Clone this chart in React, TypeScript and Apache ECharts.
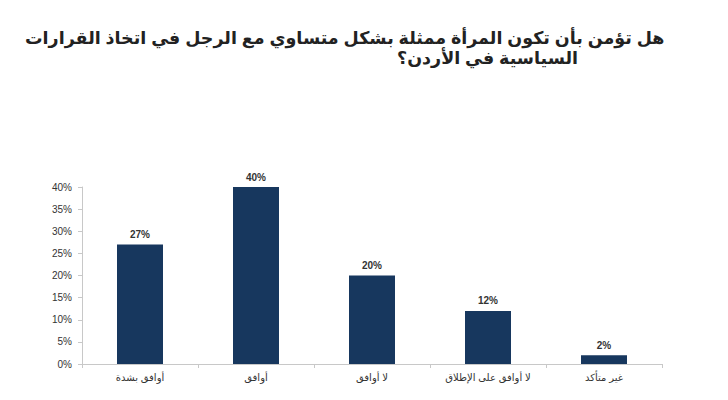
import { useEffect, useRef } from 'react';
import * as echarts from 'echarts';

const categories = ['أوافق بشدة', 'أوافق', 'لا أوافق', 'لا أوافق على الإطلاق', 'غير متأكد'];
const values = [27, 40, 20, 12, 2];
const titleLines = [
  'هل تؤمن بأن تكون المرأة ممثلة بشكل متساوي مع الرجل في اتخاذ القرارات',
  'السياسية في الأردن؟',
];

const FONT = '"Liberation Sans", "DejaVu Sans", Arial, sans-serif';

export default function App() {
  const elRef = useRef<HTMLDivElement>(null);

  useEffect(() => {
    const el = elRef.current;
    if (!el) return;
    const chart = echarts.init(el, undefined, { renderer: 'svg' });
    chart.setOption({
      animation: false,
      backgroundColor: '#ffffff',
      textStyle: { fontFamily: FONT },
      // title lines placed by their left edge: the measured width of Arabic text is unreliable
      graphic: [
        {
          type: 'text',
          x: 17,
          y: 30,
          style: {
            text: titleLines[0],
            font: `bold 17.5px ${FONT}`,
            fill: '#222222',
            textAlign: 'left',
            textVerticalAlign: 'middle',
          },
        },
        {
          type: 'text',
          x: 389,
          y: 50,
          style: {
            text: titleLines[1],
            font: `bold 17.5px ${FONT}`,
            fill: '#222222',
            textAlign: 'left',
            textVerticalAlign: 'middle',
          },
        },
      ],
      grid: { left: 74, right: 58, top: 179, bottom: 28 },
      xAxis: {
        type: 'category',
        data: categories,
        axisLine: { lineStyle: { color: '#c8c8c8' } },
        axisTick: { show: true, length: 4, lineStyle: { color: '#c8c8c8' } },
        axisLabel: { color: '#333333', fontSize: 10, margin: 8 },
      },
      yAxis: {
        type: 'value',
        min: 0,
        max: 40,
        interval: 5,
        splitLine: { show: false },
        axisLine: { show: true, lineStyle: { color: '#c8c8c8' } },
        axisTick: { show: true, length: 4, lineStyle: { color: '#c8c8c8' } },
        axisLabel: { formatter: '{value}%', color: '#333333', fontSize: 10, margin: 10 },
      },
      series: [
        {
          type: 'bar',
          data: values,
          barWidth: 46,
          itemStyle: { color: '#17375e' },
          label: {
            show: true,
            position: 'top',
            formatter: '{c}%',
            color: '#333333',
            fontSize: 10,
            fontWeight: 'bold',
            distance: 5,
          },
        },
      ],
    });
    return () => chart.dispose();
  }, []);

  return <div ref={elRef} style={{ width: 712, height: 384 }} />;
}
